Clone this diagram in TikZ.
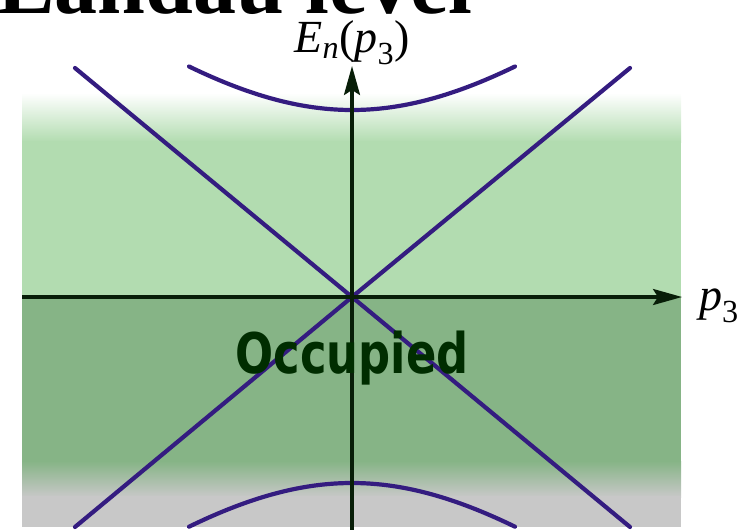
\documentclass[tikz,border=0pt]{standalone}
\usepackage{fontspec}
\usepackage{graphicx}
\setmainfont{Liberation Serif}
\newfontfamily\occfont{DejaVu Sans}
\usetikzlibrary{arrows.meta}
\definecolor{lgreen}{RGB}{178,220,176}
\definecolor{dgreen}{RGB}{134,180,134}
\definecolor{bgray}{RGB}{200,200,200}
\definecolor{bandcol}{RGB}{52,28,128}
\definecolor{axiscol}{RGB}{8,30,8}
\definecolor{occcol}{RGB}{0,45,0}
\tikzset{
  band/.style={draw=bandcol, line width=4.2pt, line cap=round},
  axis/.style={draw=axiscol, line width=3.2pt, -{Stealth[length=29pt,width=16pt,inset=5pt]}},
  lbl/.style={inner sep=0pt, font=\fontsize{46}{50}\selectfont}
}
\begin{document}
\begin{tikzpicture}[x=1pt,y=-1pt]
\useasboundingbox (0,0) rectangle (755,530);
\clip (0,0) rectangle (755,530);
% background bands
\shade[top color=white, bottom color=lgreen] (22,93) rectangle (681,142);
\fill[lgreen] (22,141) rectangle (681,298);
\fill[dgreen] (22,297) rectangle (681,462);
\shade[top color=dgreen, bottom color=bgray] (22,461) rectangle (681,497);
\fill[bgray] (22,496) rectangle (681,527);
% title remnant (cut at the top edge)
\node[anchor=base east, inner sep=0pt, text depth=0pt, font=\bfseries\fontsize{86}{90}\selectfont] (title) at (473,13) {Landau level};
% coordinates
\coordinate (O) at (352,297);
\coordinate (xl) at (22,297);
\coordinate (xr) at (682,297);
\coordinate (yb) at (352,530);
\coordinate (yt) at (352,66);
\coordinate (ul) at (75,68);
\coordinate (ur) at (630,68);
\coordinate (ll) at (75,527);
\coordinate (lr) at (630,527);
% bands
\draw[band] (ul) -- (O) -- (lr);
\draw[band] (ur) -- (O) -- (ll);
\draw[band] plot[domain=-163:163, samples=80] ({352+\x},{297-100*sqrt((0.00827*\x)^2+1.87^2)});
\draw[band] plot[domain=-163:163, samples=80] ({352+\x},{297+100*sqrt((0.00827*\x)^2+1.86^2)});
% axes
\draw[axis] (xl) -- (xr);
\draw[axis] (yb) -- (yt);
% labels
\node[lbl, anchor=base] (E) at (352,52) {\textit{E}\textsubscript{\textit{n}}(\textit{p}\textsubscript{3})};
\node[lbl, anchor=base west] (p) at (699,310) {\textit{p}\textsubscript{3}};
\node[anchor=base, inner sep=0pt, text=occcol] (occ) at (352,373) {\scalebox{0.8}[1]{\occfont\bfseries\fontsize{56}{60}\selectfont Occupied}};
\end{tikzpicture}
\end{document}
